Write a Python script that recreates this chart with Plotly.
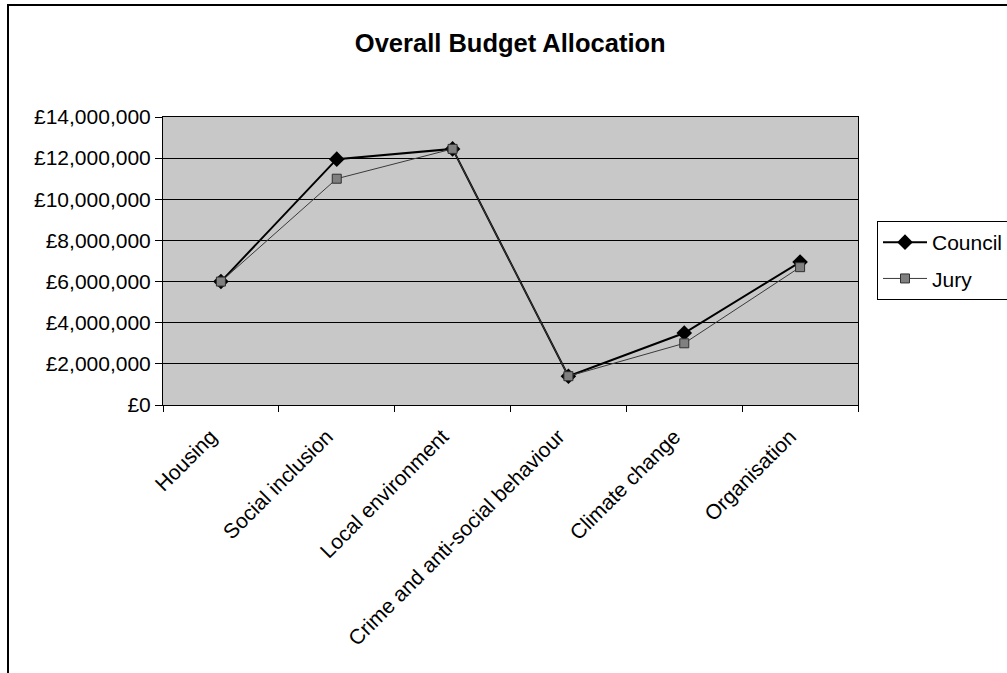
import plotly.graph_objects as go

categories = ["Housing", "Social inclusion", "Local environment",
              "Crime and anti-social behaviour", "Climate change", "Organisation"]
council = [6000000, 11950000, 12450000, 1400000, 3500000, 6950000]
jury = [6000000, 11000000, 12450000, 1400000, 3000000, 6700000]
y_tick_values = [0, 2000000, 4000000, 6000000, 8000000, 10000000, 12000000, 14000000]
y_tick_labels = ["£0", "£2,000,000", "£4,000,000", "£6,000,000", "£8,000,000",
                 "£10,000,000", "£12,000,000", "£14,000,000"]

FONT = "Liberation Sans, Arial, sans-serif"

fig = go.Figure()
fig.add_trace(go.Scatter(
    x=categories, y=council, name="Council", mode="lines+markers",
    line=dict(color="black", width=2),
    marker=dict(symbol="diamond", size=12, color="black"),
    legendgroup="c",
))
fig.add_trace(go.Scatter(
    x=categories, y=jury, name="Jury", mode="lines+markers",
    line=dict(color="#3a3a3a", width=1),
    marker=dict(symbol="square", size=9, color="#808080",
                line=dict(color="#303030", width=1)),
    legendgroup="j",
))

fig.update_layout(
    width=1007, height=673,
    margin=dict(l=163, r=149, t=117, b=268, autoexpand=False),
    paper_bgcolor="white",
    plot_bgcolor="#c8c8c8",
    font=dict(family=FONT, size=21, color="black"),
    title=dict(text="<b>Overall Budget Allocation</b>", x=0.5067, xanchor="center",
               y=1 - 43 / 673, yanchor="middle",
               font=dict(family=FONT, size=25.5, color="black")),
    showlegend=True,
    legend=dict(x=(877 - 163) / 695, xanchor="left", y=(405 - 221) / 288, yanchor="top",
                bgcolor="white", bordercolor="black", borderwidth=1,
                font=dict(family=FONT, size=21), tracegroupgap=6,
                itemwidth=44),
    shapes=[dict(type="rect", xref="paper", yref="paper",
                 x0=(8 - 163) / 695, x1=3, y0=-3, y1=(405 - 5) / 288,
                 line=dict(color="black", width=2), fillcolor="rgba(0,0,0,0)",
                 layer="below")],
)

fig.update_xaxes(
    range=[-0.5, 5.5], showgrid=False, tickangle=-45,
    ticks="outside", tickson="boundaries", ticklen=6, tickcolor="black",
    showline=True, linecolor="black", linewidth=1, mirror=True,
    tickfont=dict(family=FONT, size=21), ticklabelstandoff=10, ticklabelshift=-10,
)
fig.update_yaxes(
    range=[0, 14000000], tickvals=y_tick_values, ticktext=y_tick_labels,
    showgrid=True, gridcolor="black", gridwidth=1,
    ticks="outside", ticklen=7, tickcolor="black",
    showline=True, linecolor="black", linewidth=1, mirror=True,
    zeroline=False, tickfont=dict(family=FONT, size=21),
)

fig.write_html("out.html")
